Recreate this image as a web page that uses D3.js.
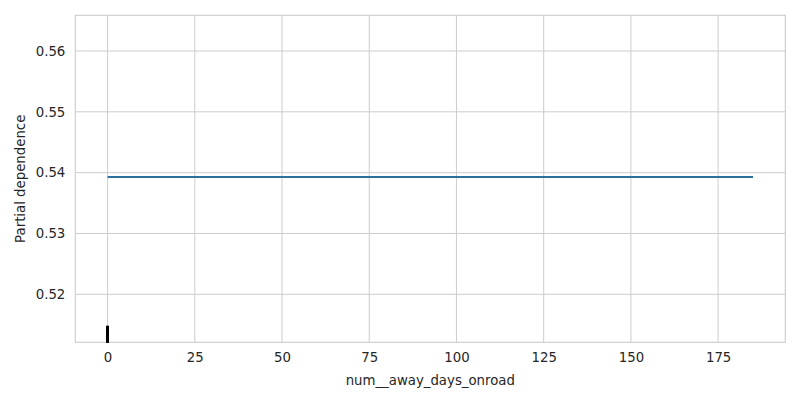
<!DOCTYPE html>
<html><head><meta charset="utf-8">
<script src="https://cdn.jsdelivr.net/npm/d3@7"></script>
<style>body{margin:0;background:#fff}svg{display:block}text{font-family:"DejaVu Sans",sans-serif;fill:#262626}</style>
</head><body><svg width="800" height="400"></svg>
<script>
const xValues = [0, 185];
const pdValues = [0.53928, 0.53928];
const deciles = [0, 0, 0, 0, 0, 0, 0, 0, 0];
const xTicks = [0, 25, 50, 75, 100, 125, 150, 175];
const yTicks = [0.52, 0.53, 0.54, 0.55, 0.56];
const xLabel = "num__away_days_onroad";
const yLabel = "Partial dependence";

const svg = d3.select("svg");
const L = 75.3, R = 785.3, T = 15.3, B = 342.3;
const x = d3.scaleLinear().domain([-9.25, 194.25]).range([L, R]);
const y = d3.scaleLinear().domain([0.51211, 0.56587]).range([B, T]);

const g = svg.append("g");
// grid
g.selectAll(".gx").data(xTicks).join("line")
  .attr("x1", d => x(d)).attr("x2", d => x(d)).attr("y1", T).attr("y2", B)
  .attr("stroke", "#cccccc").attr("stroke-width", 1);
g.selectAll(".gy").data(yTicks).join("line")
  .attr("y1", d => y(d)).attr("y2", d => y(d)).attr("x1", L).attr("x2", R)
  .attr("stroke", "#cccccc").attr("stroke-width", 1);
// frame
g.append("rect").attr("x", L).attr("y", T).attr("width", R - L).attr("height", B - T)
  .attr("fill", "none").attr("stroke", "#cccccc").attr("stroke-width", 1.1);

// axes via d3
const xAxis = d3.axisBottom(x).tickValues(xTicks).tickSize(0).tickPadding(10).tickFormat(d3.format("d"));
const ga = svg.append("g").attr("transform", `translate(0,${B})`).call(xAxis);
ga.select(".domain").remove();
ga.selectAll("text").attr("font-size", "13.3px").attr("fill", "#262626");
const yAxis = d3.axisLeft(y).tickValues(yTicks).tickSize(0).tickPadding(10).tickFormat(d3.format(".2f"));
const gy = svg.append("g").attr("transform", `translate(${L},0)`).call(yAxis);
gy.select(".domain").remove();
gy.selectAll("text").attr("font-size", "13.3px").attr("fill", "#262626");

// line
const line = d3.line().x((d, i) => x(xValues[i])).y(d => y(d));
svg.append("path").datum(pdValues).attr("d", line)
  .attr("fill", "none").attr("stroke", "#2b6fa0").attr("stroke-width", 2);

// deciles rug
const yr = y.domain();
const rugTop = yr[0] + 0.05 * (yr[1] - yr[0]);
svg.selectAll(".rug").data(deciles).join("line")
  .attr("x1", d => x(d)).attr("x2", d => x(d))
  .attr("y1", y(yr[0])).attr("y2", y(rugTop))
  .attr("stroke", "#000").attr("stroke-width", 2.5);

// labels
svg.append("text").attr("x", (L + R) / 2).attr("y", 385).attr("text-anchor", "middle")
  .attr("font-size", "13.3px").text(xLabel);
svg.append("text").attr("transform", `translate(25,${(T + B) / 2}) rotate(-90)`)
  .attr("text-anchor", "middle").attr("font-size", "13.3px").text(yLabel);
</script></body></html>
